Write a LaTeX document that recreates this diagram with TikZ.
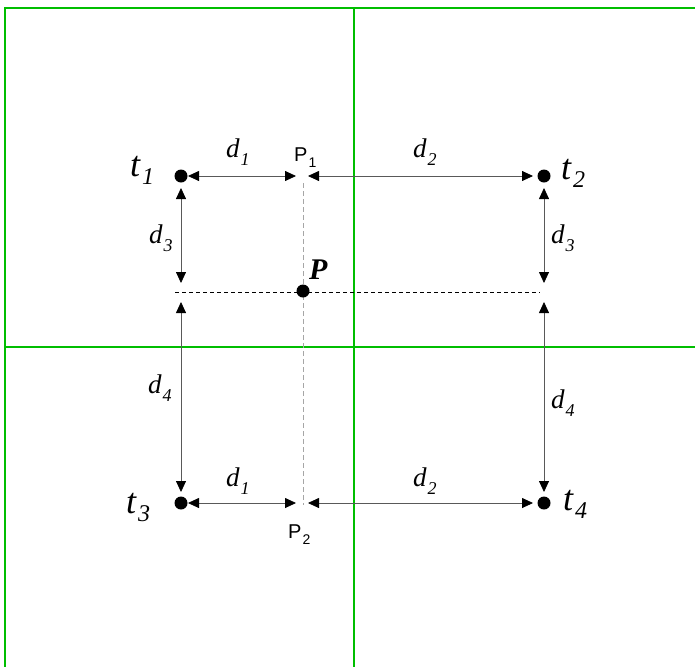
\documentclass[tikz,border=0pt]{standalone}
\usepackage{fontspec}
\setmainfont{Liberation Serif}
\setsansfont{Liberation Sans}
\usetikzlibrary{arrows.meta}
\definecolor{gridgreen}{RGB}{0,190,0}
\newcommand\tlab[2]{\fontsize{36}{36}\selectfont\itshape #1\kern2pt\raisebox{-8pt}{\fontsize{24}{24}\selectfont #2}}
\newcommand\dlab[2]{\fontsize{27}{27}\selectfont\itshape #1\kern1pt\raisebox{-8pt}{\fontsize{18}{18}\selectfont #2}}
\newcommand\plab[1]{\fontsize{20}{20}\selectfont\sffamily P\kern1pt\raisebox{-6pt}{\fontsize{14}{14}\selectfont #1}}
\tikzset{
  grid/.style={draw=gridgreen, line width=1.3pt},
  dot/.style={circle, fill=black, inner sep=0pt, minimum size=13pt},
  meas/.style={draw=black!65, line width=0.8pt, {Triangle[length=11pt,width=10pt,color=black]}-{Triangle[length=11pt,width=10pt,color=black]}},
  hdash/.style={draw=black, line width=0.7pt, dash pattern=on 4pt off 3pt},
  vdash/.style={draw=black!35, line width=0.8pt, dash pattern=on 5pt off 3pt},
  lab/.style={inner sep=0pt, anchor=base west}
}
\begin{document}
\begin{tikzpicture}[x=1pt,y=-1pt]
\useasboundingbox (0,0) rectangle (695,667);
% green grid
\draw[grid] (695,8) -- (5,8) -- (5,667);
\draw[grid] (354,8) -- (354,667);
\draw[grid] (5,347) -- (695,347);
% dashed guides
\coordinate (hl) at (175,292);
\coordinate (hr) at (540,292);
\coordinate (vt) at (303,183);
\coordinate (vb) at (303,505);
\draw[vdash] (vt) -- (vb);
\draw[hdash] (hl) -- (hr);
% points
\node[dot] (t1) at (181,176) {};
\node[dot] (t2) at (544,176) {};
\node[dot] (t3) at (181,503) {};
\node[dot] (t4) at (544,503) {};
\node[dot] (P) at (303,291) {};
% arrow end coordinates
\coordinate (a1l) at (188,176); \coordinate (a1r) at (296,176);
\coordinate (a2l) at (308,176); \coordinate (a2r) at (533,176);
\coordinate (b1l) at (188,503); \coordinate (b1r) at (296,503);
\coordinate (b2l) at (308,503); \coordinate (b2r) at (533,503);
\coordinate (l3t) at (181,188); \coordinate (l3b) at (181,283);
\coordinate (l4t) at (181,302); \coordinate (l4b) at (181,492);
\coordinate (r3t) at (544,188); \coordinate (r3b) at (544,283);
\coordinate (r4t) at (544,302); \coordinate (r4b) at (544,492);
\draw[meas] (a1l) -- (a1r);
\draw[meas] (a2l) -- (a2r);
\draw[meas] (b1l) -- (b1r);
\draw[meas] (b2l) -- (b2r);
\draw[meas] (l3t) -- (l3b);
\draw[meas] (l4t) -- (l4b);
\draw[meas] (r3t) -- (r3b);
\draw[meas] (r4t) -- (r4b);
% labels
\node[lab] (lt1) at (130,176) {\tlab{t}{1}};
\node[lab] (lt2) at (561,179) {\tlab{t}{2}};
\node[lab] (lt3) at (126,513) {\tlab{t}{3}};
\node[lab] (lt4) at (563,510) {\tlab{t}{4}};
\node[lab] (ld1) at (226,157) {\dlab{d}{1}};
\node[lab] (ld2) at (413,157) {\dlab{d}{2}};
\node[lab] (ld3l) at (149,243) {\dlab{d}{3}};
\node[lab] (ld3r) at (551,243) {\dlab{d}{3}};
\node[lab] (ld4l) at (148,393) {\dlab{d}{4}};
\node[lab] (ld4r) at (551,408) {\dlab{d}{4}};
\node[lab] (ld1b) at (226,486) {\dlab{d}{1}};
\node[lab] (ld2b) at (413,486) {\dlab{d}{2}};
\node[lab] (lP) at (309,279) {\fontsize{30}{30}\selectfont\bfseries\itshape P};
\node[lab] (lP1) at (294,161) {\plab{1}};
\node[lab] (lP2) at (288,538) {\plab{2}};
\end{tikzpicture}
\end{document}
